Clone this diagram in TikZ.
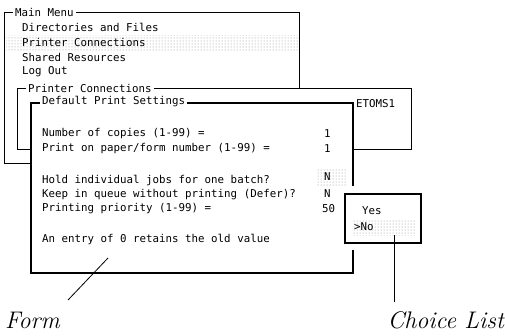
\documentclass[tikz,border=0pt]{standalone}
\usepackage{fontspec}
\newfontfamily\scrfont{DejaVu Sans Mono}
\usepackage{tikz}
\usetikzlibrary{patterns}

\begin{document}
\begin{tikzpicture}[x=1pt,y=-1pt,
  win/.style={draw,fill=white,line width=0.8pt,anchor=north west,inner sep=0pt},
  heavy/.style={win,line width=2.2pt},
  scr/.style={font=\scrfont\fontsize{10.8}{12}\selectfont,anchor=west,inner sep=0pt},
  wtitle/.style={scr,fill=white,inner xsep=2pt,inner ysep=1pt},
  hilite/.style={pattern=dots,pattern color=black!45},
  lbl/.style={font=\fontsize{24}{28}\selectfont\itshape,inner sep=0pt},
  ptr/.style={line width=0.8pt}]

  \useasboundingbox (0,0) rectangle (505,335);

  % Main menu window
  \node[win,minimum width=295pt,minimum height=151pt] (mainmenu) at (4,12) {};
  \fill[hilite] (6,35) rectangle (298,50);
  \node[wtitle] (mmtitle) at (13,12) {Main Menu};
  \node[scr] (dirs)   at (22,27) {Directories and Files};
  \node[scr] (prn)    at (22,42) {Printer Connections};
  \node[scr] (shared) at (22,57) {Shared Resources};
  \node[scr] (logout) at (22,72) {Log Out};

  % Printer connections window
  \node[win,minimum width=394pt,minimum height=61pt] (prconn) at (17,88) {};
  \node[wtitle] (pctitle) at (26,88) {Printer Connections};
  \node[scr] (queue) at (356,104) {ETOMS1};

  % Form
  \node[heavy,minimum width=322pt,minimum height=170pt] (form) at (30,102) {};
  \node[wtitle] (ftitle) at (40,102) {Default Print Settings};
  \node[scr] (copies)  at (42,134) {Number of copies (1-99) =};
  \node[scr] (paper)   at (42,149) {Print on paper/form number (1-99) =};
  \node[scr] (hold)    at (42,180) {Hold individual jobs for one batch?};
  \node[scr] (defer)   at (42,195) {Keep in queue without printing (Defer)?};
  \node[scr] (prio)    at (42,209) {Printing priority (1-99) =};
  \node[scr] (note)    at (42,239) {An entry of 0 retains the old value};
  \node[scr] (vcopies) at (324,134) {1};
  \node[scr] (vpaper)  at (324,149) {1};
  \fill[hilite] (317,168) rectangle (347,185);
  \node[scr] (vhold)   at (324,177) {N};
  \node[scr] (vdefer)  at (324,194) {N};
  \node[scr] (vprio)   at (322,209) {50};

  % Choice list
  \fill[white] (339,186) rectangle (425,250);
  \node[heavy,minimum width=76pt,minimum height=49pt] (choice) at (344,193) {};
  \fill[hilite] (352,219) rectangle (416,235);
  \node[scr] (yes) at (362,211) {Yes};
  \node[scr] (no)  at (354,227) {>No};

  % Labels
  \node[lbl,anchor=base west] (formlbl)   at (5,328)   {Form};
  \node[lbl,anchor=base east] (choicelbl) at (504,328) {Choice List};
  \coordinate (formfoot) at (68,300);
  \coordinate (formtip) at (108,258);
  \coordinate (choicefoot) at (394,302);
  \coordinate (choicetip) at (394,235);
  \draw[ptr] (formfoot) -- (formtip);
  \draw[ptr] (choicefoot) -- (choicetip);
\end{tikzpicture}
\end{document}
